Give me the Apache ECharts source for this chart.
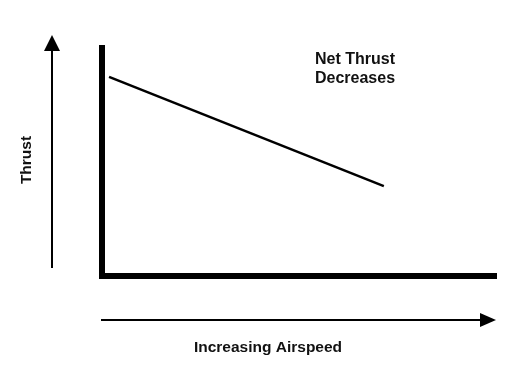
<!DOCTYPE html>
<html>
<head>
<meta charset="utf-8">
<script src="https://cdn.jsdelivr.net/npm/echarts@6/dist/echarts.min.js"></script>
<style>html,body{margin:0;padding:0;background:#fff;}#c{width:520px;height:378px;}</style>
</head>
<body>
<div id="c"></div>
<script>
// Data (relative units, 0-100)
const airspeed = [1.8, 71.9];
const thrust = [87.3, 39.3];
const annotation = ['Net Thrust', 'Decreases'];
const xTitle = 'Increasing Airspeed';
const yTitle = 'Thrust';

const chart = echarts.init(document.getElementById('c'), null, {renderer: 'canvas'});
const font = '"Liberation Sans", Arial, sans-serif';
chart.setOption({
  animation: false,
  backgroundColor: '#ffffff',
  grid: {left: 102, right: 26, top: 48, bottom: 102.5},
  xAxis: {
    type: 'value', min: 0, max: 100,
    axisLine: {show: true, lineStyle: {color: '#000', width: 6, cap: 'square'}},
    axisTick: {show: false}, axisLabel: {show: false}, splitLine: {show: false}
  },
  yAxis: {
    type: 'value', min: 0, max: 100,
    axisLine: {show: true, lineStyle: {color: '#000', width: 6, cap: 'square'}},
    axisTick: {show: false}, axisLabel: {show: false}, splitLine: {show: false}
  },
  series: [{
    type: 'line',
    data: airspeed.map((x, i) => [x, thrust[i]]),
    showSymbol: false,
    symbol: 'none',
    lineStyle: {color: '#000', width: 2.5}
  }],
  graphic: [
    {type: 'line', shape: {x1: 52, y1: 268, x2: 52, y2: 48}, style: {stroke: '#000', lineWidth: 2}},
    {type: 'polygon', shape: {points: [[52, 35], [44, 51], [60, 51]]}, style: {fill: '#000'}},
    {type: 'line', shape: {x1: 101, y1: 320, x2: 484, y2: 320}, style: {stroke: '#000', lineWidth: 2}},
    {type: 'polygon', shape: {points: [[496, 320], [480, 313], [480, 327]]}, style: {fill: '#000'}},
    {type: 'text', x: 355, y: 50, style: {text: annotation.join('\n'), font: 'bold 16px ' + font, fill: '#111', align: 'center', verticalAlign: 'top', lineHeight: 19}},
    {type: 'text', x: 268, y: 348, style: {text: xTitle, font: 'bold 15.5px ' + font, fill: '#111', align: 'center', verticalAlign: 'middle'}},
    {type: 'text', x: 27, y: 160, rotation: Math.PI / 2, style: {text: yTitle, font: 'bold 15.5px ' + font, fill: '#111', align: 'center', verticalAlign: 'middle'}}
  ]
});
</script>
</body>
</html>
